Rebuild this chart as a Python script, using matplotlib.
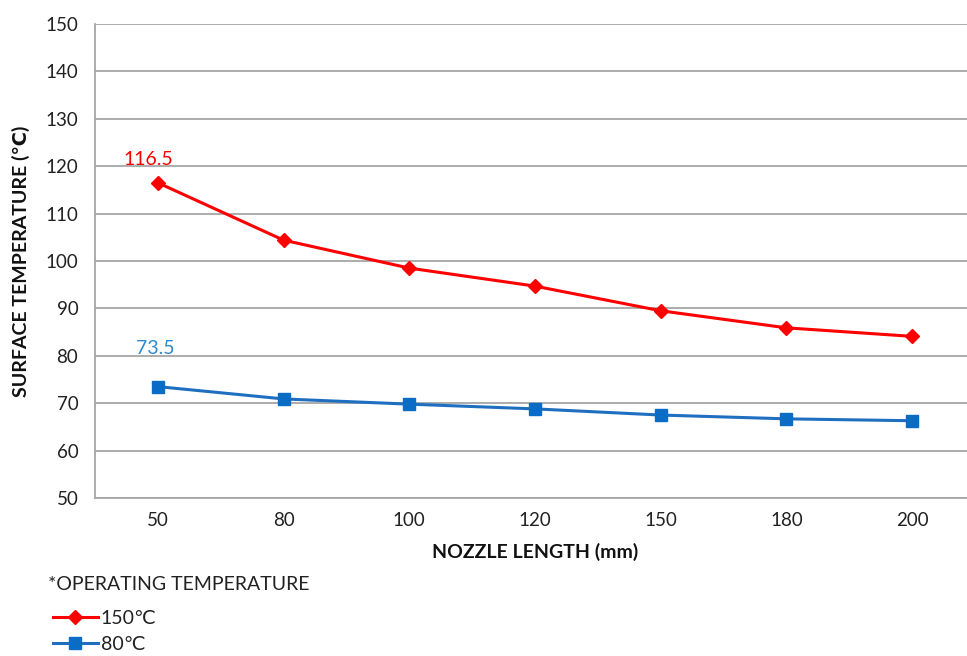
import matplotlib
matplotlib.use("Agg")
import matplotlib.pyplot as plt
from matplotlib.lines import Line2D

plt.rcParams['font.family'] = ['Lato', 'DejaVu Sans']

categories = ["50", "80", "100", "120", "150", "180", "200"]
temp_150 = [116.5, 104.4, 98.5, 94.7, 89.5, 85.9, 84.1]
temp_80 = [73.5, 70.9, 69.8, 68.8, 67.5, 66.7, 66.3]
yticks = [50, 60, 70, 80, 90, 100, 110, 120, 130, 140, 150]

W, H = 967, 656
fig = plt.figure(figsize=(W / 100, H / 100), dpi=100)
ax = fig.add_axes([95 / W, 1 - 498 / H, 880 / W, (498 - 24) / H])

x = list(range(len(categories)))
red = "#FF0000"
blue = "#1F6FC0"
ax.plot(x, temp_150, color=red, lw=2.2, marker="D", ms=7, mec=red, mfc=red, zorder=3)
ax.plot(x, temp_80, color=blue, lw=2.2, marker="s", ms=9, mec="#0A6CC4", mfc="#0A6CC4", zorder=3)

ax.set_xlim(-0.5, 6.5)
ax.set_ylim(50, 150)
ax.set_yticks(yticks)
ax.set_xticks(x)
ax.set_xticklabels(categories)
ax.grid(axis="y", color="#A6A6A6", lw=1.3)
ax.set_axisbelow(True)
for s in ["top", "right"]:
    ax.spines[s].set_visible(False)
ax.spines["left"].set_color("#A6A6A6")
ax.spines["bottom"].set_color("#A6A6A6")
ax.spines["left"].set_linewidth(1.3)
ax.spines["bottom"].set_linewidth(1.3)
ax.tick_params(axis="both", length=0, labelsize=13.5, colors="#222222")
ax.tick_params(axis="x", pad=10)
ax.tick_params(axis="y", pad=12)

ax.set_xlabel("NOZZLE LENGTH (mm)", fontsize=14, fontweight="bold", labelpad=10, color="#111111")
ax.set_ylabel("SURFACE TEMPERATURE (℃)", fontsize=14, fontweight="bold", labelpad=11, color="#111111")

ax.annotate(f"{temp_150[0]}", (x[0], temp_150[0]), xytext=(-7, 11), textcoords="offset points",
            ha="center", va="bottom", color=red, fontsize=14)
ax.annotate(f"{temp_80[0]}", (x[0], temp_80[0]), xytext=(-2, 21), textcoords="offset points",
            ha="center", va="bottom", color="#2E8AD0", fontsize=14)

fig.text(48 / W, 1 - 584 / H, "*OPERATING TEMPERATURE", fontsize=14, color="#222222", va="center", ha="left")
handles = [Line2D([], [], color=red, lw=2.2, marker="D", ms=7, mfc=red, mec=red),
           Line2D([], [], color=blue, lw=2.2, marker="s", ms=8, mfc="#0A6CC4", mec="#0A6CC4")]
leg = fig.legend(handles, ["150℃", "80℃"], loc="upper left", bbox_to_anchor=(53 / W, 1 - 610 / H),
                 frameon=False, fontsize=14, handlelength=2.3, handletextpad=0.15,
                 labelspacing=0.45, borderpad=0, borderaxespad=0)
for t in leg.get_texts():
    t.set_color("#222222")

fig.savefig("out.png", dpi=100)
